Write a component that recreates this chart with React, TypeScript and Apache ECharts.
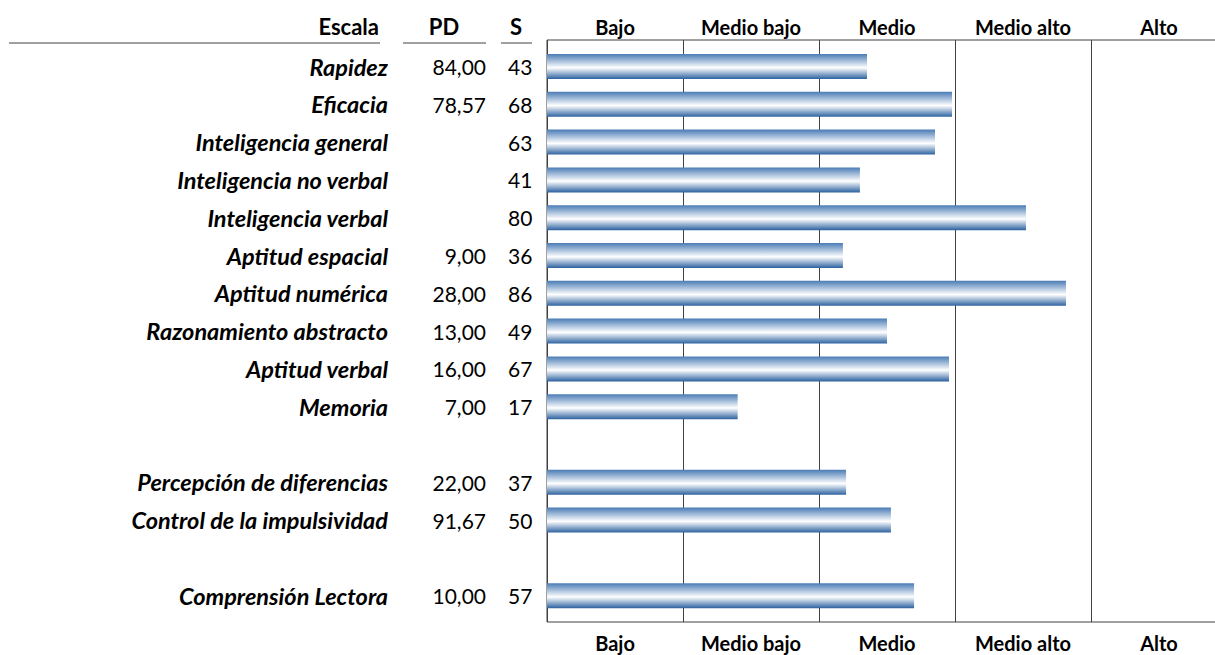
import React, { useEffect, useRef } from "react";
import * as echarts from "echarts";

const scaleNames = [
  "Rapidez",
  "Eficacia",
  "Inteligencia general",
  "Inteligencia no verbal",
  "Inteligencia verbal",
  "Aptitud espacial",
  "Aptitud numérica",
  "Razonamiento abstracto",
  "Aptitud verbal",
  "Memoria",
  "",
  "Percepción de diferencias",
  "Control de la impulsividad",
  "",
  "Comprensión Lectora",
];
const pdValues = ["84,00", "78,57", "", "", "", "9,00", "28,00", "13,00", "16,00", "7,00", "", "22,00", "91,67", "", "10,00"];
const sValues = ["43", "68", "63", "41", "80", "36", "86", "49", "67", "17", "", "37", "50", "", "57"];
// bar end, in band units (each band = 1)
const barEnds = [2.353, 2.978, 2.853, 2.301, 3.522, 2.176, 3.816, 2.5, 2.956, 1.402, null, 2.199, 2.529, null, 2.699];
const bands = ["Bajo", "Medio bajo", "Medio", "Medio alto", "Alto"];
const headers = ["Escala", "PD", "S"];

const FONT = "Lato";

export default function App() {
  const ref = useRef<HTMLDivElement>(null);
  useEffect(() => {
    if (!ref.current) return;
    const chart = echarts.init(ref.current, null, { renderer: "svg" });
    const rowCount = scaleNames.length;
    const rowH = 37.8;
    const barGridTop = 47.6;
    const lineColor = "#404040";
    const headerStyle = { fontFamily: FONT, fontWeight: "bold", fontSize: 22, fill: "#000", verticalAlign: "middle" };
    const option: any = {
      animation: false,
      backgroundColor: "#ffffff",
      textStyle: { fontFamily: FONT },
      grid: [
        { left: 547, top: barGridTop, width: 680, height: rowH * rowCount, outerBoundsMode: "none", containLabel: false },
        {
          left: 547,
          top: 40,
          width: 680,
          height: 582,
          show: true,
          borderColor: lineColor,
          borderWidth: 1,
          backgroundColor: "transparent",
          outerBoundsMode: "none",
          containLabel: false,
        },
      ],
      xAxis: [
        { type: "value", gridIndex: 0, min: 0, max: 5, show: false },
        {
          type: "category",
          gridIndex: 1,
          position: "bottom",
          data: bands,
          boundaryGap: true,
          axisLine: { show: false },
          axisTick: { show: false },
          splitLine: { show: true, lineStyle: { color: lineColor, width: 1 } },
          axisLabel: { interval: 0, margin: 11, fontFamily: FONT, fontWeight: "bold", fontSize: 20, color: "#000" },
        },
        {
          type: "category",
          gridIndex: 1,
          position: "top",
          data: bands,
          boundaryGap: true,
          axisLine: { show: false },
          axisTick: { show: false },
          splitLine: { show: false },
          axisLabel: { interval: 0, margin: 3, fontFamily: FONT, fontWeight: "bold", fontSize: 20, color: "#000" },
        },
      ],
      yAxis: [
        {
          type: "category",
          gridIndex: 0,
          position: "left",
          data: scaleNames,
          inverse: true,
          axisLine: { show: false },
          axisTick: { show: false },
          axisLabel: {
            interval: 0,
            margin: 159,
            align: "right",
            fontFamily: FONT,
            fontWeight: "bold",
            fontStyle: "italic",
            fontSize: 23.5,
            color: "#000",
          },
        },
        {
          type: "category",
          gridIndex: 0,
          position: "left",
          data: pdValues,
          inverse: true,
          axisLine: { show: false },
          axisTick: { show: false },
          axisLabel: { interval: 0, margin: 61, align: "right", fontFamily: FONT, fontSize: 21, color: "#000" },
        },
        {
          type: "category",
          gridIndex: 0,
          position: "left",
          data: sValues,
          inverse: true,
          axisLine: { show: false },
          axisTick: { show: false },
          axisLabel: { interval: 0, margin: 39, align: "left", fontFamily: FONT, fontSize: 21, color: "#000" },
        },
        { type: "value", gridIndex: 1, show: false, min: 0, max: 1 },
      ],
      series: [
        {
          type: "bar",
          xAxisIndex: 0,
          yAxisIndex: 0,
          data: barEnds.map((v) => (v === null ? "-" : v)),
          barWidth: 25,
          z: 3,
          itemStyle: {
            color: new echarts.graphic.LinearGradient(0, 0, 0, 1, [
              { offset: 0, color: "#4a7cb5" },
              { offset: 0.55, color: "#ffffff" },
              { offset: 1, color: "#2c62a0" },
            ]),
          },
        },
      ],
      graphic: [
        { type: "text", x: 379, y: 26, style: { ...headerStyle, text: headers[0], align: "right" } },
        { type: "text", x: 444, y: 26, style: { ...headerStyle, text: headers[1], align: "center" } },
        { type: "text", x: 516, y: 26, style: { ...headerStyle, text: headers[2], align: "center" } },
        { type: "line", shape: { x1: 9, y1: 43, x2: 380, y2: 43 }, style: { stroke: lineColor, lineWidth: 1 } },
        { type: "line", shape: { x1: 403, y1: 43, x2: 486, y2: 43 }, style: { stroke: lineColor, lineWidth: 1 } },
        { type: "line", shape: { x1: 501, y1: 43, x2: 532, y2: 43 }, style: { stroke: lineColor, lineWidth: 1 } },
      ],
    };
    chart.setOption(option);
    return () => chart.dispose();
  }, []);
  return <div ref={ref} style={{ position: "fixed", left: 0, top: 0, width: 1215, height: 655 }} />;
}
